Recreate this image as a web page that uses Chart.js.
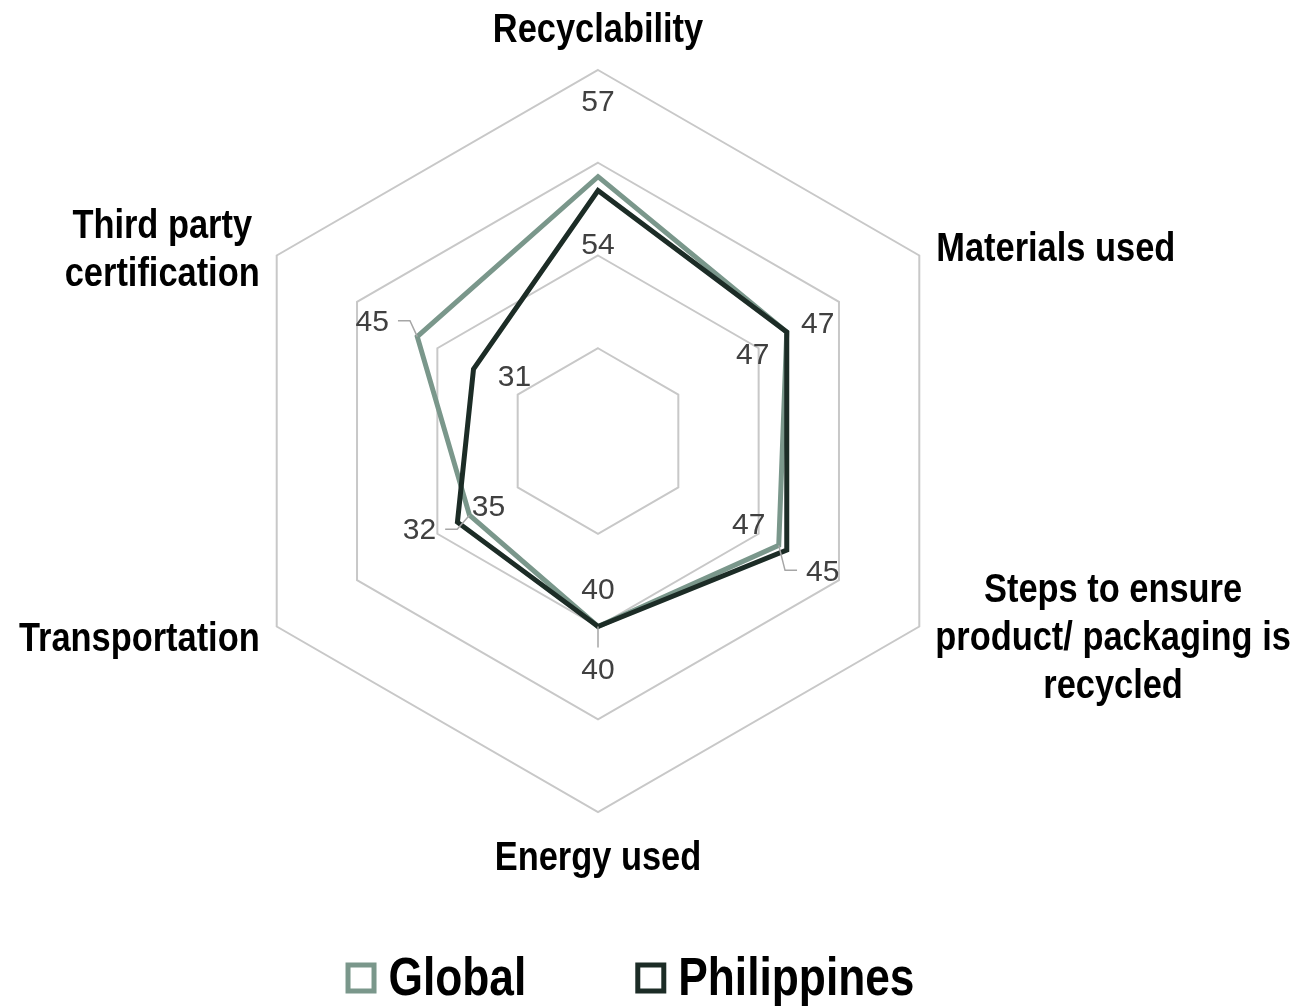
<!DOCTYPE html>
<html>
<head>
<meta charset="utf-8">
<title>Sustainability radar</title>
<script src="https://cdn.jsdelivr.net/npm/chart.js@4.4.0/dist/chart.umd.min.js"></script>
<style>
  html, body { margin: 0; padding: 0; background: #ffffff; }
  #wrap { width: 1302px; height: 1007px; position: relative; }
</style>
</head>
<body>
<div id="wrap"><canvas id="radar" width="1302" height="1007"></canvas></div>
<script>
// Axis categories (multi-line labels are split into lines)
const categories = [
  ['Recyclability'],
  ['Materials used'],
  ['Steps to ensure', 'product/ packaging is', 'recycled'],
  ['Energy used'],
  ['Transportation'],
  ['Third party', 'certification']
];
const seriesNames = ['Global', 'Philippines'];
const globalValues = [57, 47, 45, 40, 32, 45];
const philippinesValues = [54, 47, 47, 40, 35, 31];
const scaleMin = 0;
const scaleMax = 80;
const scaleStep = 20;

const COLORS = {
  global: '#7a978b',
  philippines: '#1c2c26',
  grid: '#c8c8c8',
  value: '#404040',
  leader: '#a6a6a6',
  text: '#000000'
};

const CATEGORY_FONT = 'bold 40px "Liberation Sans", Arial, sans-serif';
const CATEGORY_SCALE_X = 0.86;
const CATEGORY_LINE_HEIGHT = 48;
const VALUE_FONT = '30px "Liberation Sans", Arial, sans-serif';
const LEGEND_FONT = 'bold 54px "Liberation Sans", Arial, sans-serif';
const LEGEND_SCALE_X = 0.82;

// Where each category label sits relative to its outer vertex
const categoryPlacement = [
  { align: 'center', dx: 0, dy: -39 },
  { align: 'left', dx: 17, dy: -6 },
  { align: 'left', dx: 16, dy: 12 },
  { align: 'center', dx: 0, dy: 47 },
  { align: 'right', dx: -17, dy: 13 },
  { align: 'right', dx: -17, dy: -5 }
];

// Value label offsets from each data point; some labels use a leader line
const valuePlacement = [
  [
    { dx: 0, dy: -74 },
    { dx: -34, dy: 24 },
    { dx: 44, dy: 27, leader: 'left' },
    { dx: 0, dy: 44, leader: 'top' },
    { dx: -50, dy: 16, leader: 'right' },
    { dx: -45, dy: -14, leader: 'right' }
  ],
  [
    { dx: 0, dy: 55 },
    { dx: 31, dy: -7 },
    { dx: -38, dy: -24 },
    { dx: 0, dy: -36 },
    { dx: 31, dy: -14 },
    { dx: 41, dy: 9 }
  ]
];

function scaledWidth(ctx, text, font, sx) {
  ctx.save();
  ctx.font = font;
  const w = ctx.measureText(text).width * sx;
  ctx.restore();
  return w;
}

function drawScaledText(ctx, text, x, y, font, sx, align, color) {
  ctx.save();
  ctx.font = font;
  ctx.fillStyle = color;
  ctx.textAlign = align;
  ctx.textBaseline = 'middle';
  ctx.translate(x, y);
  ctx.scale(sx, 1);
  ctx.fillText(text, 0, 0);
  ctx.restore();
}

const radarLabels = {
  id: 'radarLabels',
  afterDatasetsDraw(chart) {
    const ctx = chart.ctx;
    const scale = chart.scales.r;

    // Category labels around the outer ring
    categories.forEach((lines, i) => {
      const v = scale.getPointPosition(i, scale.drawingArea);
      const p = categoryPlacement[i];
      const widths = lines.map(t => scaledWidth(ctx, t, CATEGORY_FONT, CATEGORY_SCALE_X));
      const blockW = Math.max(...widths);
      let cx;
      if (p.align === 'left') cx = v.x + p.dx + blockW / 2;
      else if (p.align === 'right') cx = v.x + p.dx - blockW / 2;
      else cx = v.x + p.dx;
      const midY = v.y + p.dy;
      const top = midY - (lines.length - 1) * CATEGORY_LINE_HEIGHT / 2;
      lines.forEach((t, k) => {
        drawScaledText(ctx, t, cx, top + k * CATEGORY_LINE_HEIGHT, CATEGORY_FONT, CATEGORY_SCALE_X, 'center', COLORS.text);
      });
    });

    // Value labels and their leader lines
    chart.data.datasets.forEach((ds, di) => {
      const meta = chart.getDatasetMeta(di);
      meta.data.forEach((pt, i) => {
        const place = valuePlacement[di][i];
        const text = String(ds.data[i]);
        const lx = pt.x + place.dx;
        const ly = pt.y + place.dy;
        ctx.save();
        ctx.font = VALUE_FONT;
        const w = ctx.measureText(text).width;
        ctx.restore();
        if (place.leader) {
          ctx.save();
          ctx.strokeStyle = COLORS.leader;
          ctx.lineWidth = 1.5;
          ctx.beginPath();
          if (place.leader === 'right') {
            const sx = lx + w / 2 + 9, sy = ly - 2;
            ctx.moveTo(sx, sy); ctx.lineTo(sx + 12, sy); ctx.lineTo(pt.x, pt.y);
          } else if (place.leader === 'left') {
            const sx = lx - w / 2 - 9, sy = ly - 2;
            ctx.moveTo(sx, sy); ctx.lineTo(sx - 12, sy); ctx.lineTo(pt.x, pt.y);
          } else if (place.leader === 'top') {
            ctx.moveTo(lx, ly - 23); ctx.lineTo(pt.x, pt.y);
          }
          ctx.stroke();
          ctx.restore();
        }
        drawScaledText(ctx, text, lx, ly, VALUE_FONT, 1, 'center', COLORS.value);
      });
    });
  },
  afterDraw(chart) {
    // Legend with outlined square markers
    const ctx = chart.ctx;
    const box = 31, gapText = 12, gapItems = 109, centerX = 630, cy = 980;
    const items = chart.data.datasets.map(ds => ({
      label: ds.label,
      color: ds.borderColor,
      w: scaledWidth(ctx, ds.label, LEGEND_FONT, LEGEND_SCALE_X)
    }));
    const total = items.reduce((s, it) => s + box + gapText + it.w, 0) + gapItems * (items.length - 1);
    let x = centerX - total / 2;
    items.forEach(it => {
      ctx.save();
      ctx.strokeStyle = it.color;
      ctx.lineWidth = 5;
      ctx.strokeRect(x + 2.5, cy - 2 - box / 2 + 2.5, box - 5, box - 5);
      ctx.restore();
      drawScaledText(ctx, it.label, x + box + gapText, cy, LEGEND_FONT, LEGEND_SCALE_X, 'left', COLORS.text);
      x += box + gapText + it.w + gapItems;
    });
  }
};

new Chart(document.getElementById('radar'), {
  type: 'radar',
  data: {
    labels: categories.map(l => l.join(' ')),
    datasets: [
      {
        label: seriesNames[0],
        data: globalValues,
        borderColor: COLORS.global,
        backgroundColor: 'rgba(0,0,0,0)',
        borderWidth: 5,
        borderJoinStyle: 'miter',
        pointRadius: 0,
        fill: false,
        order: 1
      },
      {
        label: seriesNames[1],
        data: philippinesValues,
        borderColor: COLORS.philippines,
        backgroundColor: 'rgba(0,0,0,0)',
        borderWidth: 5,
        borderJoinStyle: 'miter',
        pointRadius: 0,
        fill: false,
        order: 0
      }
    ]
  },
  options: {
    responsive: false,
    animation: false,
    devicePixelRatio: 1,
    layout: { padding: { left: 227, right: 333, top: 70, bottom: 195 } },
    plugins: {
      legend: { display: false },
      tooltip: { enabled: false }
    },
    scales: {
      r: {
        min: scaleMin,
        max: scaleMax,
        ticks: { display: false, stepSize: scaleStep },
        grid: { color: COLORS.grid, lineWidth: 2, circular: false },
        angleLines: { display: false },
        pointLabels: { display: false }
      }
    }
  },
  plugins: [radarLabels]
});
</script>
</body>
</html>
